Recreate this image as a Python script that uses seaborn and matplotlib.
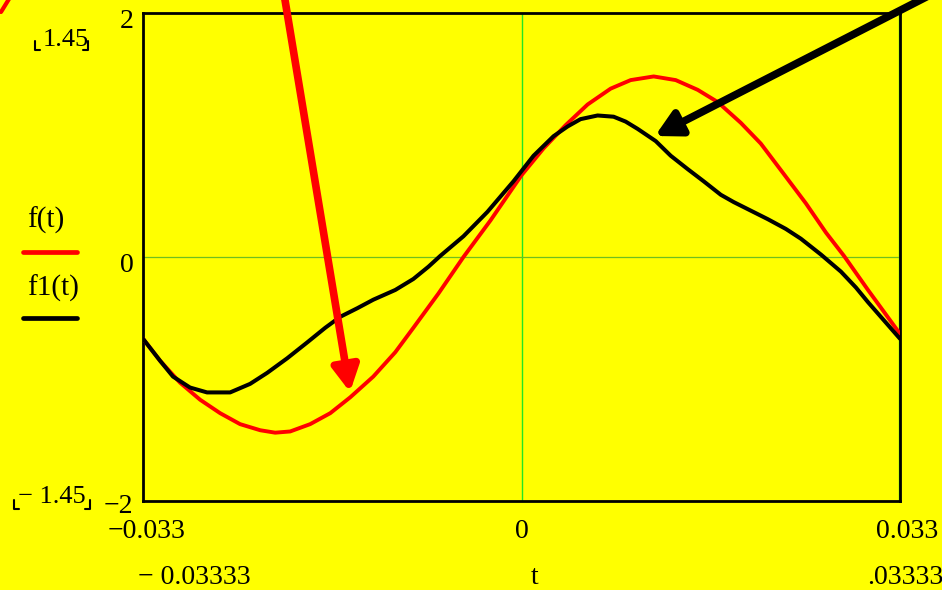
import matplotlib
matplotlib.use("Agg")
import matplotlib.pyplot as plt
import matplotlib.transforms as mtransforms
import pandas as pd
import seaborn as sns

# ---- data ----
t_f = [-0.03333, -0.03183, -0.03007, -0.02830, -0.02654, -0.02478, -0.02301,
       -0.02169, -0.02037, -0.01861, -0.01684, -0.01508, -0.01305, -0.01111,
       -0.00952, -0.00732, -0.00511, -0.00273, 0.0, 0.00194, 0.00388,
       0.00582, 0.00785, 0.00961, 0.01164, 0.01358, 0.01552, 0.01728,
       0.01931, 0.02107, 0.02310, 0.02504, 0.02681, 0.02839, 0.03051, 0.03333]
f_vals = [-0.67, -0.85, -1.03, -1.17, -1.28, -1.37, -1.42, -1.44, -1.43, -1.37,
          -1.28, -1.15, -0.98, -0.78, -0.58, -0.30, 0.00, 0.30, 0.67, 0.89,
          1.08, 1.25, 1.38, 1.45, 1.48, 1.45, 1.37, 1.27, 1.10, 0.93, 0.68,
          0.44, 0.20, 0.01, -0.27, -0.63]

t_f1 = [-0.03333, -0.03183, -0.03069, -0.02919, -0.02769, -0.02566, -0.02390,
        -0.02240, -0.02063, -0.01887, -0.01728, -0.01596, -0.01446, -0.01305,
        -0.01111, -0.00952, -0.00820, -0.00714, -0.00511, -0.00300, -0.00071,
        0.00106, 0.00282, 0.00406, 0.00520, 0.00670, 0.00811, 0.00917,
        0.01023, 0.01182, 0.01314, 0.01464, 0.01605, 0.01755, 0.01869,
        0.02019, 0.02169, 0.02328, 0.02460, 0.02637, 0.02813, 0.02945,
        0.03051, 0.03192, 0.03333]
f1_vals = [-0.67, -0.85, -0.98, -1.07, -1.11, -1.11, -1.04, -0.95, -0.83, -0.70,
           -0.58, -0.49, -0.42, -0.35, -0.27, -0.18, -0.08, 0.01, 0.17, 0.37,
           0.62, 0.83, 0.99, 1.07, 1.13, 1.16, 1.15, 1.11, 1.05, 0.95, 0.83,
           0.72, 0.62, 0.51, 0.45, 0.38, 0.31, 0.23, 0.15, 0.02, -0.12, -0.25,
           -0.37, -0.52, -0.67]

x_ticks = [-0.033, 0.0, 0.033]
x_tick_labels = ["\u22120.033", "0", "0.033"]
y_ticks = [-2, 0, 2]
y_tick_labels = ["\u22122", "0", "2"]
x_limits = [-0.03333, 0.03333]
y_limits = [-2, 2]
series_names = ["f(t)", "f1(t)"]

W, H = 942, 590
YEL = "#FFFF00"

sns.set_style("white")
plt.rcParams["font.family"] = ["Liberation Serif", "DejaVu Serif"]

fig = plt.figure(figsize=(W / 100, H / 100), dpi=100, facecolor=YEL)
ax = fig.add_axes([143 / W, 1 - 501 / H, (900 - 143) / W, (501 - 13) / H])
ax.set_facecolor(YEL)

df_f = pd.DataFrame({"t": t_f, "v": f_vals})
df_f1 = pd.DataFrame({"t": t_f1, "v": f1_vals})

# grid lines
ax.axvline(0, color="#22e622", lw=1.0, zorder=1)
ax.axvline(x_limits[1] - 0.00008, color="#22e622", lw=1.0, zorder=1)
ax.axhline(0, color="#6fbf1f", lw=0.9, zorder=1)

sns.lineplot(data=df_f, x="t", y="v", ax=ax, color="#FF0000", lw=2.8,
             sort=False, estimator=None, zorder=3)
sns.lineplot(data=df_f1, x="t", y="v", ax=ax, color="#000000", lw=2.9,
             sort=False, estimator=None, zorder=4)

ax.set_xlim(*x_limits)
ax.set_ylim(*y_limits)
ax.set_xlabel("")
ax.set_ylabel("")
for s in ax.spines.values():
    s.set_visible(True)
    s.set_color("black")
    s.set_linewidth(2.0)

ax.set_xticks(x_ticks)
ax.set_xticklabels(x_tick_labels)
ax.set_yticks(y_ticks)
ax.set_yticklabels(y_tick_labels)
ax.tick_params(axis="both", length=0, labelsize=20, colors="black")
ax.tick_params(axis="x", pad=13)
ax.tick_params(axis="y", pad=7)

# fine offsets of tick labels (points)
xoff = [0, 0, 8]
for lab, dx in zip(ax.get_xticklabels(), xoff):
    lab.set_transform(lab.get_transform() +
                      mtransforms.ScaledTranslation(dx / 72, 0, fig.dpi_scale_trans))
yoff = [-2, -4, -4]
for lab, dy in zip(ax.get_yticklabels(), yoff):
    lab.set_transform(lab.get_transform() +
                      mtransforms.ScaledTranslation(0, dy / 72, fig.dpi_scale_trans))


def ftext(x, y, s, size=20, **kw):
    fig.text(x / W, 1 - y / H, s, fontsize=size, color="black", **kw)


# range labels (Mathcad style)
ftext(43, 40, "1.45", size=19, ha="left", va="center")
ftext(18, 497, "\u2212 1.45", size=19, ha="left", va="center")
ftext(138, 578, "\u2212 0.03333", ha="left", va="center")
ftext(535, 578, "t", ha="center", va="center")
ftext(943, 578, ".03333", ha="right", va="center")


def fline(xs, ys, color="black", lw=1.5):
    fig.add_artist(plt.Line2D([x / W for x in xs], [1 - y / H for y in ys],
                              color=color, lw=lw, transform=fig.transFigure))


# placeholder brackets
fline([35, 35, 40], [41, 50, 50])
fline([83, 88, 88], [50, 50, 41])
fline([14, 14, 19], [500, 509, 509])
fline([85, 90, 90], [509, 509, 500])

# legend
ftext(27, 220, series_names[0], size=21, ha="left", va="center")
fline([23, 77], [252, 252], color="#FF0000", lw=3.4)
ftext(27, 288, series_names[1], size=21, ha="left", va="center")
fline([23, 77], [318, 318], color="black", lw=3.4)


# arrows
def farrow(x0, y0, x1, y1, color):
    ax.annotate("", xy=(x1, H - y1), xytext=(x0, H - y0),
                xycoords="figure pixels", textcoords="figure pixels",
                arrowprops=dict(arrowstyle="-|>,head_length=1.5,head_width=0.8",
                                color=color, lw=5.5, shrinkA=0, shrinkB=0),
                annotation_clip=False, zorder=6)


farrow(284, -6, 350, 392, "#FF0000")
farrow(936, -8, 655, 136, "black")
fline([1, 9], [12, -1], color="#FF0000", lw=3)

fig.savefig("out.png", dpi=100, facecolor=YEL)
